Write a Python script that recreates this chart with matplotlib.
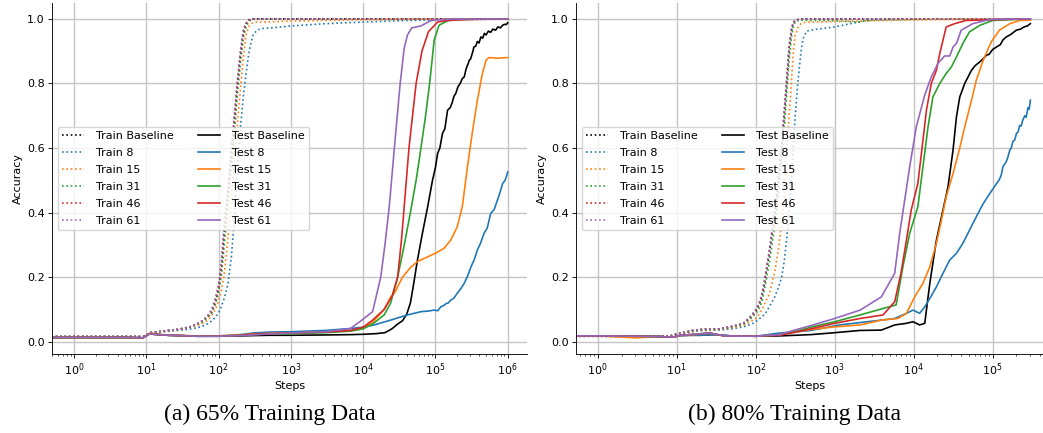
import matplotlib
matplotlib.use("Agg")
import matplotlib.pyplot as plt

# ---------------- (a) 65% training data ----------------
A_TRAIN_STEPS = [0, 1, 3, 6, 9, 10, 11, 13, 16, 20, 25, 30, 40, 50, 60, 70, 80, 90, 100, 110,
                 120, 135, 150, 165, 180, 200, 220, 240, 260, 280, 300, 340, 400, 600, 1000,
                 3000, 1e4, 3e4, 1e5, 3e5, 1e6]
A_TRAIN_BASE = [.016, .016, .016, .016, .016, .020, .028, .030, .032, .035, .037, .040, .046, .054,
                .064, .076, .09, .12, .165, .23, .34, .45, .57, .68, .78, .885, .955, .985, .996,
                .999, 1, 1, 1, 1, 1, 1, 1, 1, 1, 1, 1]
A_TRAIN_8 = [.016, .016, .016, .016, .016, .019, .026, .028, .030, .032, .034, .036, .039, .043,
             .048, .055, .064, .075, .09, .11, .135, .18, .26, .38, .52, .66, .76, .83, .89, .925,
             .95, .965, .97, .973, .978, .985, .99, .994, .997, .998, .999]
A_TRAIN_15 = [.016, .016, .016, .016, .016, .019, .027, .029, .031, .034, .036, .039, .044, .05,
              .057, .066, .08, .1, .125, .16, .21, .32, .45, .55, .66, .78, .88, .95, .975, .985,
              .988, .99, .99, .991, .993, .995, .997, .998, .999, 1, 1]
A_TRAIN_31 = [.016, .016, .016, .016, .016, .020, .028, .030, .032, .035, .037, .040, .046, .053,
              .062, .074, .09, .115, .15, .21, .3, .42, .54, .64, .75, .86, .94, .975, .99, .996,
              .998, 1, 1, 1, 1, 1, 1, 1, 1, 1, 1]
A_TRAIN_46 = [.016, .016, .016, .016, .016, .020, .028, .030, .032, .035, .037, .040, .046, .055,
              .065, .078, .095, .125, .17, .24, .35, .46, .58, .69, .79, .89, .96, .985, .995,
              .998, .999, 1, 1, 1, 1, 1, 1, 1, 1, 1, 1]
A_TRAIN_61 = [.016, .016, .016, .016, .016, .020, .028, .030, .032, .035, .037, .040, .046, .055,
              .066, .08, .10, .135, .18, .26, .37, .48, .6, .7, .8, .9, .97, .985, .995, .998,
              .999, 1, 1, 1, 1, 1, 1, 1, 1, 1, 1]

A_TEST_BASE_STEPS = [0, 1, 3, 6, 9, 11, 15, 20, 30, 50, 100, 200, 300, 500, 1000, 3000, 6700, 10000,
                     15000, 20000, 25000, 30000, 35000, 40000, 45000, 50000, 56000, 66000, 78000,
                     91000, 100000, 107000, 115000, 125000, 135000, 147000, 160000, 170000, 180000,
                     191000, 205000, 220000, 235000, 250000, 262000, 270000, 282000, 294000,
                     305000, 320000, 330000, 340000, 360000, 380000, 400000, 425000, 450000,
                     475000, 500000, 540000, 580000, 620000, 680000, 730000, 790000, 850000,
                     900000, 950000, 1000000]
A_TEST_BASE = [.013, .013, .013, .013, .012, .024, .022, .02, .019, .017, .017, .018, .019, .02, .02,
               .021, .022, .023, .025, .028, .04, .055, .065, .085, .12, .18, .25, .336, .418,
               .5, .54, .583, .6, .645, .66, .717, .725, .74, .76,
               .769, .79, .80, .815, .82, .84, .85, .86, .872,
               .875, .89, .9, .913, .915, .93, .925, .944, .94,
               .955, .95, .962, .958, .968, .965, .975, .972, .98,
               .983, .982, .988]
A_TEST_8_STEPS = [0, 1, 3, 6, 9, 11, 15, 20, 30, 50, 100, 200, 300, 500, 1000, 3000, 6700, 10000,
                  14200, 24000, 41000, 63000, 80000, 96000, 108000, 118000, 130000, 140000,
                  150000, 163000, 180000, 200000, 225000, 250000, 280000, 310000, 345000, 380000,
                  420000, 470000, 520000, 580000, 650000, 720000, 780000, 850000, 920000, 1000000]
A_TEST_8 = [.013, .013, .013, .013, .012, .025, .022, .02, .019, .017, .018, .022, .027, .03, .031,
            .035, .041, .045, .052, .067, .083, .093, .095, .098, .096, .108, .112, .118,
            .12, .129, .135, .15, .165, .181, .205, .232, .255, .284,
            .305, .336, .352, .397, .41, .439, .462, .49, .5, .526]
A_TEST_15_STEPS = [0, 1, 3, 6, 9, 11, 15, 20, 30, 50, 100, 200, 300, 500, 1000, 3000, 6700, 10000,
                   13500, 19500, 24000, 27000, 35000, 46000, 56000, 78000, 100000, 131000, 163000,
                   200000, 235000, 277000, 322000, 380000, 445000, 500000, 550000, 720000, 1000000]
A_TEST_15 = [.013, .013, .013, .013, .012, .026, .023, .021, .02, .018, .018, .021, .024, .026,
             .027, .03, .034, .042, .06, .1, .139, .15, .2, .232, .248, .263, .274, .289, .315,
             .356, .418, .542, .645, .748, .83, .872, .88, .878, .88]
A_TEST_31_STEPS = [0, 1, 3, 6, 9, 11, 15, 20, 30, 50, 100, 200, 300, 500, 1000, 3000, 6700, 10000,
                   13500, 19500, 24000, 30000, 37000, 45000, 54000, 63000, 73000, 83000, 96000,
                   112000, 147000, 200000, 1000000]
A_TEST_31 = [.013, .013, .013, .013, .012, .024, .022, .02, .019, .017, .017, .02, .022, .024, .025,
             .028, .033, .04, .055, .083, .12, .2, .3, .4, .5, .6, .7, .8, .934, .98, .994, .998, 1.0]
A_TEST_46_STEPS = [0, 1, 3, 6, 9, 11, 15, 20, 30, 50, 100, 200, 300, 500, 1000, 3000, 6700, 10000,
                   13500, 19500, 25000, 30000, 34000, 37000, 43000, 54000, 65000, 80000, 107000,
                   147000, 300000, 1000000]
A_TEST_46 = [.013, .013, .013, .013, .012, .024, .022, .02, .019, .017, .017, .02, .023, .025, .027,
             .03, .035, .045, .067, .1, .14, .2, .32, .42, .6, .8, .9, .96, .99, .995, .998, 1.0]
A_TEST_61_STEPS = [0, 1, 3, 6, 9, 11, 15, 20, 30, 50, 100, 200, 300, 500, 1000, 3000, 6700, 10000,
                   13500, 17500, 20000, 23000, 27000, 32500, 37000, 41000, 47000, 63000, 87000,
                   150000, 1000000]
A_TEST_61 = [.013, .013, .013, .013, .012, .024, .022, .02, .019, .017, .017, .019, .021, .024, .027,
             .031, .041, .07, .093, .2, .3, .42, .6, .8, .91, .95, .972, .978, .995, .999, 1.0]

# ---------------- (b) 80% training data ----------------
B_TRAIN_STEPS = [0, 1, 3, 6, 8, 10, 13, 16, 20, 25, 35, 50, 70, 90, 100, 110, 120, 131, 150, 175,
                 195, 213, 230, 247, 265, 286, 300, 316, 347, 375, 400, 442, 600, 1000, 2000, 3000,
                 1e4, 3e4, 1e5, 3e5]
B_TRAIN_BASE = [.017, .017, .017, .017, .017, .024, .03, .035, .038, .039, .04, .047, .056, .08,
                .095, .113, .14, .19, .28, .395, .505, .6, .705, .805, .91, .97, .988, .995, .998,
                .999, 1, 1, 1, 1, 1, 1, 1, 1, 1, 1]
B_TRAIN_8 = [.017, .017, .017, .017, .017, .021, .026, .031, .034, .035, .036, .04, .046, .055,
             .062, .07, .078, .085, .11, .14, .17, .2, .25, .32, .4, .52, .615, .7, .82, .9, .94,
             .962, .968, .975, .99, .997, .999, 1, 1, 1]
B_TRAIN_15 = [.017, .017, .017, .017, .017, .022, .028, .033, .036, .037, .038, .044, .05, .065,
              .072, .085, .1, .12, .15, .22, .29, .37, .45, .59, .7, .82, .9, .95, .975, .985,
              .988, .99, .99, .992, .993, .994, .997, .998, .999, .999]
B_TRAIN_31 = [.017, .017, .017, .017, .017, .023, .029, .034, .037, .038, .039, .046, .054, .075,
              .088, .1, .125, .17, .25, .36, .46, .56, .66, .77, .87, .95, .975, .99, .995, .996,
              .996, .995, .995, .994, .99, .997, .998, 1, 1, 1]
B_TRAIN_46 = [.017, .017, .017, .017, .017, .024, .03, .035, .038, .039, .04, .047, .057, .082,
              .097, .117, .145, .195, .285, .40, .51, .605, .71, .81, .915, .97, .988, .995, .998,
              .999, 1, 1, 1, 1, 1, 1, 1, 1, 1, 1]
B_TRAIN_61 = [.017, .017, .017, .017, .017, .024, .03, .035, .038, .039, .04, .048, .058, .085,
              .1, .12, .15, .2, .29, .41, .52, .615, .72, .82, .92, .975, .99, .995, .998, .999,
              1, 1, 1, 1, 1, 1, 1, 1, 1, 1]

B_TEST_BASE_STEPS = [0, 1, 3, 6, 9, 11, 15, 20, 30, 50, 100, 200, 500, 1000, 2100, 3900, 5750, 8100,
                     9800, 11900, 13800, 16000, 19400, 23500, 27200, 31500, 34800, 38300, 44300,
                     54000, 60000, 69000, 75000, 83000, 90000, 100000, 112000, 125000, 135000,
                     149000, 170000, 200000, 225000, 250000, 275000, 300000]
B_TEST_BASE = [.018, .018, .016, .016, .014, .019, .02, .02, .022, .018, .017, .018, .022, .028,
               .035, .036, .052, .057, .062, .052, .057, .181, .315, .408, .48, .594, .697, .758,
               .8, .841, .855, .867, .875, .887, .89, .905, .913, .92, .935,
               .944, .952, .965, .968, .975, .978, .985]
B_TEST_8_STEPS = [0, 1, 3, 6, 9, 11, 15, 20, 30, 50, 100, 200, 300, 500, 1150, 3900, 5750, 8100,
                  9800, 11900, 13800, 16000, 19400, 23500, 28600, 34800, 42000, 51000, 62000,
                  76000, 92000, 112000, 120000, 128000, 135000, 142000, 150000, 157000, 165000,
                  172000, 180000, 190000, 200000, 210000, 220000, 230000, 240000, 255000,
                  265000, 280000, 290000, 300000]
B_TEST_8 = [.018, .018, .016, .016, .014, .019, .02, .02, .022, .018, .017, .027, .03, .035, .052,
            .067, .072, .088, .098, .088, .108, .134, .17, .212, .253, .274, .305, .346, .387,
            .428, .459, .49, .5, .515, .542, .55, .56, .575, .594,
            .6, .62, .625, .645, .65, .67, .668, .686, .70,
            .695, .725, .72, .748]
B_TEST_15_STEPS = [0, 1, 3, 6, 9, 11, 15, 26, 40, 100, 200, 300, 500, 1000, 2100, 3900, 6300, 8100,
                   10300, 13100, 16000, 19400, 22500, 25800, 31500, 38300, 44300, 54000, 62000,
                   76000, 96000, 122000, 165000, 220000, 300000]
B_TEST_15 = [.018, .018, .012, .016, .014, .019, .021, .026, .018, .017, .022, .03, .038, .046,
             .052, .067, .072, .088, .139, .181, .232, .305, .377, .449, .521, .6, .666, .748,
             .81, .872, .929, .965, .985, .995, .996]
B_TEST_31_STEPS = [0, 1, 3, 6, 9, 11, 15, 26, 40, 100, 200, 300, 500, 1000, 2100, 4100, 6000, 7300,
                   8900, 11300, 13100, 15200, 17500, 21400, 25800, 30000, 34800, 42000, 51000,
                   69000, 100000, 300000]
B_TEST_31 = [.018, .018, .017, .016, .014, .02, .022, .027, .018, .017, .021, .03, .045, .062, .083,
             .103, .114, .232, .336, .418, .542, .666, .758, .8, .831, .851, .882, .924, .96, .98,
             .995, 1.0]
B_TEST_46_STEPS = [0, 1, 3, 6, 9, 11, 15, 26, 40, 100, 200, 300, 500, 1000, 2100, 4100, 5750, 6900,
                   8100, 9300, 11300, 13100, 14500, 16700, 19400, 21400, 25800, 33000, 46000, 300000]
B_TEST_46 = [.018, .018, .017, .016, .014, .02, .022, .027, .018, .017, .02, .028, .04, .057, .072,
             .083, .124, .212, .315, .408, .49, .624, .717, .8, .841, .893, .975, .985, .995, 1.0]
B_TEST_61_STEPS = [0, 1, 3, 6, 9, 11, 15, 26, 40, 100, 200, 300, 500, 1000, 2100, 3900, 5750, 6650,
                   7700, 8900, 10800, 13800, 16700, 20300, 24600, 28600, 31500, 34800, 40000, 56000,
                   92000, 300000]
B_TEST_61 = [.018, .018, .017, .016, .014, .02, .022, .027, .018, .017, .022, .035, .05, .072, .098,
             .139, .212, .336, .439, .542, .666, .764, .82, .862, .885, .885, .913, .924, .965,
             .985, .998, 1.0]

LABELS = ["Baseline", "8", "15", "31", "46", "61"]
COLORS = ["black", "#1f77b4", "#ff7f0e", "#2ca02c", "#d62728", "#9467bd"]
A_XTICKS = [1e0, 1e1, 1e2, 1e3, 1e4, 1e5, 1e6]
B_XTICKS = [1e0, 1e1, 1e2, 1e3, 1e4, 1e5]
Y_TICKS = [0.0, 0.2, 0.4, 0.6, 0.8, 1.0]

S = 0.79  # overall scale of the original figure
FS = 8.0
W, H = 1043, 433

fig = plt.figure(figsize=(W / 100, H / 100), dpi=100)

panels = [
    dict(rect=[52 / W, 1 - 354 / H, 475 / W, 351 / H],
         xlim=(10 ** -0.304, 10 ** 6.266), xticks=A_XTICKS,
         train_steps=A_TRAIN_STEPS,
         train=[A_TRAIN_BASE, A_TRAIN_8, A_TRAIN_15, A_TRAIN_31, A_TRAIN_46, A_TRAIN_61],
         test=[(A_TEST_BASE_STEPS, A_TEST_BASE), (A_TEST_8_STEPS, A_TEST_8),
               (A_TEST_15_STEPS, A_TEST_15), (A_TEST_31_STEPS, A_TEST_31),
               (A_TEST_46_STEPS, A_TEST_46), (A_TEST_61_STEPS, A_TEST_61)],
         caption="(a) 65% Training Data", cap_x=270),
    dict(rect=[576 / W, 1 - 354 / H, 467 / W, 351 / H],
         xlim=(10 ** -0.275, 10 ** 5.637), xticks=B_XTICKS,
         train_steps=B_TRAIN_STEPS,
         train=[B_TRAIN_BASE, B_TRAIN_8, B_TRAIN_15, B_TRAIN_31, B_TRAIN_46, B_TRAIN_61],
         test=[(B_TEST_BASE_STEPS, B_TEST_BASE), (B_TEST_8_STEPS, B_TEST_8),
               (B_TEST_15_STEPS, B_TEST_15), (B_TEST_31_STEPS, B_TEST_31),
               (B_TEST_46_STEPS, B_TEST_46), (B_TEST_61_STEPS, B_TEST_61)],
         caption="(b) 80% Training Data", cap_x=795),
]

for p in panels:
    ax = fig.add_axes(p["rect"])
    ax.set_xscale("log")
    for lab, col, vals in zip(LABELS, COLORS, p["train"]):
        ax.plot(p["train_steps"], vals, ls=":", color=col, lw=1.5 * S, label=f"Train {lab}")
    for lab, col, (st, vals) in zip(LABELS, COLORS, p["test"]):
        ax.plot(st, vals, ls="-", color=col, lw=1.5 * S, label=f"Test {lab}")
    ax.set_xticks(p["xticks"])
    ax.set_xlim(*p["xlim"])
    ax.set_ylim(-0.038, 1.049)
    ax.set_yticks(Y_TICKS)
    ax.grid(True, which="major", color="#c4c4c4", lw=1.0)
    ax.set_axisbelow(True)
    for side in ("top", "right"):
        ax.spines[side].set_visible(False)
    for side in ("left", "bottom"):
        ax.spines[side].set_linewidth(0.8 * S)
    ax.tick_params(which="major", length=3.5 * S, width=0.8 * S, labelsize=FS, pad=3.0 * S)
    ax.tick_params(which="minor", length=2 * S, width=0.6 * S)
    ax.set_xlabel("Steps", fontsize=FS, labelpad=3 * S)
    ax.set_ylabel("Accuracy", fontsize=FS, labelpad=4 * S)
    ax.legend(loc="center left", ncol=2, fontsize=FS, labelspacing=0.62,
              handletextpad=1.05, columnspacing=2.2)
    fig.text(p["cap_x"] / W, 1 - 414 / H, p["caption"], ha="center", va="center",
             family="Liberation Serif", fontsize=17)

fig.savefig("out.png", dpi=100)
